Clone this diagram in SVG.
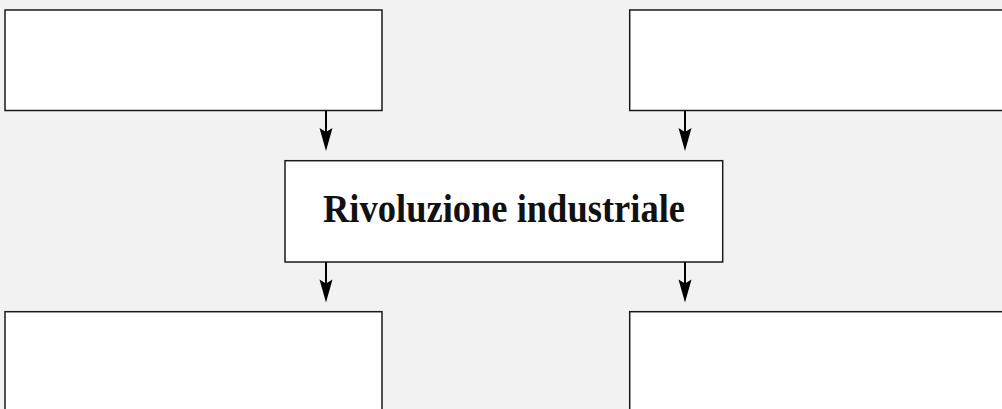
<svg xmlns="http://www.w3.org/2000/svg" width="1002" height="409" viewBox="0 0 1002 409">
<style>
.box{fill:#ffffff;stroke:#1a1a1a;stroke-width:1.5}
.line{stroke:#000;stroke-width:2;fill:none}
.head{fill:#000;stroke:none}
.lbl{font-family:"Liberation Serif",serif;font-weight:bold;font-size:39px;fill:#111}
</style>
<defs>
<path id="ah" class="head" d="M0,0 L-6.5,-23 L0,-19 L6.5,-23 Z"/>
</defs>
<rect x="0" y="0" width="1002" height="409" fill="#f2f2f2"/>
<g id="node-top-left"><rect class="box" x="5" y="10" width="377" height="100.5"/></g>
<g id="node-top-right"><rect class="box" x="629.7" y="10" width="380" height="100.5"/></g>
<g id="node-center">
<rect class="box" x="285" y="160.7" width="437.7" height="101.3"/>
<text class="lbl" x="504" y="221.7" text-anchor="middle" textLength="362" lengthAdjust="spacingAndGlyphs">Rivoluzione industriale</text>
</g>
<g id="node-bottom-left"><rect class="box" x="5" y="311.7" width="377" height="110"/></g>
<g id="node-bottom-right"><rect class="box" x="629.7" y="311.7" width="380" height="110"/></g>
<g id="connectors">
<line class="line" x1="326" y1="110.5" x2="326" y2="133"/>
<use href="#ah" x="326" y="151"/>
<line class="line" x1="685" y1="110.5" x2="685" y2="133"/>
<use href="#ah" x="685" y="151"/>
<line class="line" x1="326" y1="262" x2="326" y2="284"/>
<use href="#ah" x="326" y="302.5"/>
<line class="line" x1="685" y1="262" x2="685" y2="284"/>
<use href="#ah" x="685" y="302.5"/>
</g>
</svg>
